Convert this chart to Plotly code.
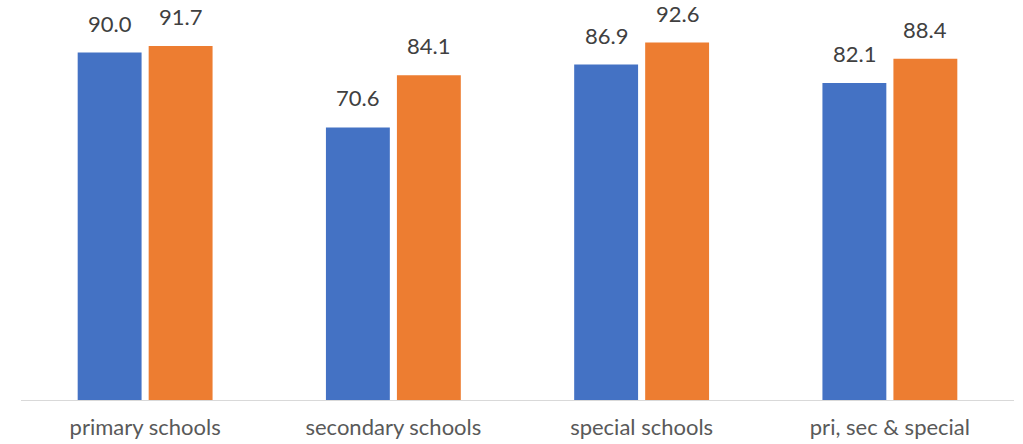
import plotly.graph_objects as go

categories = ["primary schools", "secondary schools", "special schools", "pri, sec & special"]
series_a = [90.0, 70.6, 86.9, 82.1]
series_b = [91.7, 84.1, 92.6, 88.4]
series_names = ["Series 1", "Series 2"]
colors = ["#4472C4", "#ED7D31"]

FONT = "Lato, 'Open Sans', sans-serif"
W, H = 1023, 444
ML, MR, MT, MB = 21, 9, 14, 44
BARGAP = 0.428

fig = go.Figure()
for name, vals, col in zip(series_names, [series_a, series_b], colors):
    fig.add_trace(go.Bar(
        x=categories, y=vals, name=name, marker=dict(color=col, line=dict(width=0)),
    ))

# value labels above bars
plot_w = W - ML - MR
slot = plot_w / len(categories) * (1 - BARGAP) / 2
for si, vals in enumerate([series_a, series_b]):
    shift = (si - 0.5) * slot
    for c, v in zip(categories, vals):
        fig.add_annotation(x=c, y=v, text=f"{v:.1f}", showarrow=False,
                           xref="x", yref="y", xshift=shift, yshift=14,
                           yanchor="bottom", xanchor="center",
                           font=dict(family=FONT, size=22, color="#404040"))

fig.update_layout(
    width=W, height=H,
    margin=dict(l=ML, r=MR, t=MT, b=MB, pad=0),
    barmode="group", bargap=BARGAP, bargroupgap=0.1,
    showlegend=False,
    plot_bgcolor="white", paper_bgcolor="white",
)
fig.update_xaxes(showline=True, linecolor="#D9D9D9", linewidth=1, ticks="",
                 tickfont=dict(family=FONT, size=22, color="#595959"),
                 ticklabelstandoff=8, showgrid=False, automargin=False)
fig.update_yaxes(range=[0, 100], visible=False, showgrid=False)

fig.write_html("out.html", config={"displayModeBar": False},
               post_script="document.body.style.margin='0';")
